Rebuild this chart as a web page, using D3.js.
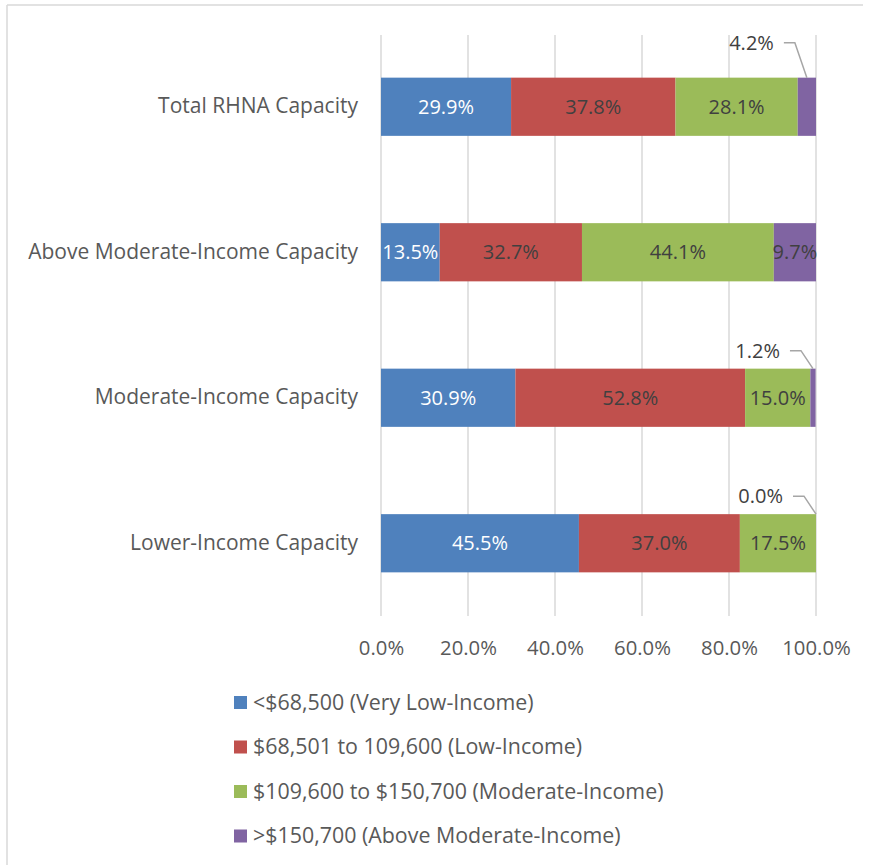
<!DOCTYPE html>
<html><head><meta charset="utf-8">
<script src="https://cdn.jsdelivr.net/npm/d3@7"></script>
<style>body{margin:0;background:#fff}svg{display:block}text{font-family:"Open Sans",Lato,sans-serif}</style>
</head><body><svg id="c" width="873" height="865"></svg>
<script>
const categories = ["Total RHNA Capacity","Above Moderate-Income Capacity","Moderate-Income Capacity","Lower-Income Capacity"];
const seriesNames = ["<$68,500 (Very Low-Income)","$68,501 to 109,600 (Low-Income)","$109,600 to $150,700 (Moderate-Income)",">$150,700 (Above Moderate-Income)"];
const veryLow = [29.9, 13.5, 30.9, 45.5];
const low = [37.8, 32.7, 52.8, 37.0];
const moderate = [28.1, 44.1, 15.0, 17.5];
const aboveMod = [4.2, 9.7, 1.2, 0.0];
const tickValues = [0,20,40,60,80,100];
const colors = ["#4f81bd","#c0504d","#9bbb59","#8064a2"];

const seriesVals = [veryLow, low, moderate, aboveMod];
const svg = d3.select("#c");
const FONT = '"Open Sans", Lato, sans-serif';

// border (top and left visible)
svg.append("line").attr("x1",7).attr("x2",863).attr("y1",5).attr("y2",5).attr("stroke","#d9d9d9").attr("stroke-width",1.5);
svg.append("line").attr("x1",7).attr("x2",7).attr("y1",5).attr("y2",865).attr("stroke","#d9d9d9").attr("stroke-width",1.5);

const x = d3.scaleLinear().domain([0,100]).range([381,816]);
const y = d3.scaleBand().domain(categories).range([34,616]).paddingInner(0.6).paddingOuter(0.3);

// grid
svg.append("g").selectAll("line").data(tickValues).join("line")
  .attr("x1",d=>x(d)).attr("x2",d=>x(d)).attr("y1",35).attr("y2",616)
  .attr("stroke","#d9d9d9").attr("stroke-width",1.5);

// stacked data
const rows = categories.map((c,i)=>{const o={cat:c}; seriesNames.forEach((s,j)=>o[s]=seriesVals[j][i]); return o;});
const stack = d3.stack().keys(seriesNames)(rows);

const g = svg.append("g");
stack.forEach((layer,j)=>{
  g.append("g").attr("fill",colors[j]).selectAll("rect").data(layer).join("rect")
    .attr("x",d=>x(d[0])).attr("width",d=>Math.max(0,x(d[1])-x(d[0])))
    .attr("y",d=>y(d.data.cat)).attr("height",y.bandwidth());
});

// labels
stack.forEach((layer,j)=>{
  layer.forEach(d=>{
    const v = d.data[seriesNames[j]];
    const yc = y(d.data.cat)+y.bandwidth()/2;
    const w = x(d[1])-x(d[0]);
    const txt = v.toFixed(1)+"%";
    if (j===3 && w<30) {
      const top = y(d.data.cat);
      const ex = x(d[0]) + w/2;
      const ly = top - 18 - (d.data.cat==="Total RHNA Capacity"?17:0);
      svg.append("text").attr("x",ex-33).attr("y",ly).attr("dy","0.35em").attr("text-anchor","end")
        .attr("font-size",20).attr("fill","#404040").text(txt);
      svg.append("polyline").attr("points",[[ex-23,ly],[ex-12,ly],[ex,top]].map(p=>p.join(",")).join(" "))
        .attr("fill","none").attr("stroke","#a6a6a6").attr("stroke-width",1.5);
    } else {
      svg.append("text").attr("x",x(d[0])+w/2).attr("y",yc).attr("dy","0.35em").attr("text-anchor","middle")
        .attr("font-size",20).attr("fill", j===0?"#ffffff":"#404040").text(txt);
    }
  });
});

// x-axis labels
const xa = svg.append("g").attr("transform","translate(0,648)")
  .call(d3.axisBottom(x).tickValues(tickValues).tickFormat(d=>d.toFixed(1)+"%").tickSize(0).tickPadding(0));
xa.select(".domain").remove();
xa.selectAll("text").attr("font-size",20.3).attr("fill","#595959").attr("dy","0.35em").attr("font-family",FONT);

// y-axis labels
const ya = svg.append("g").attr("transform","translate(358,0)")
  .call(d3.axisLeft(y).tickSize(0).tickPadding(0));
ya.select(".domain").remove();
ya.selectAll("text").attr("font-size",21).attr("fill","#595959").attr("font-family",FONT);

// legend
const lg = svg.append("g").selectAll("g").data(seriesNames).join("g")
  .attr("transform",(d,i)=>`translate(234,${702+i*44.5})`);
lg.append("rect").attr("x",0).attr("y",-6).attr("width",13).attr("height",13).attr("fill",(d,i)=>colors[i]);
lg.append("text").attr("x",19).attr("y",0).attr("dy","0.35em").attr("font-size",21.4).attr("fill","#595959").text(d=>d);
</script></body></html>
